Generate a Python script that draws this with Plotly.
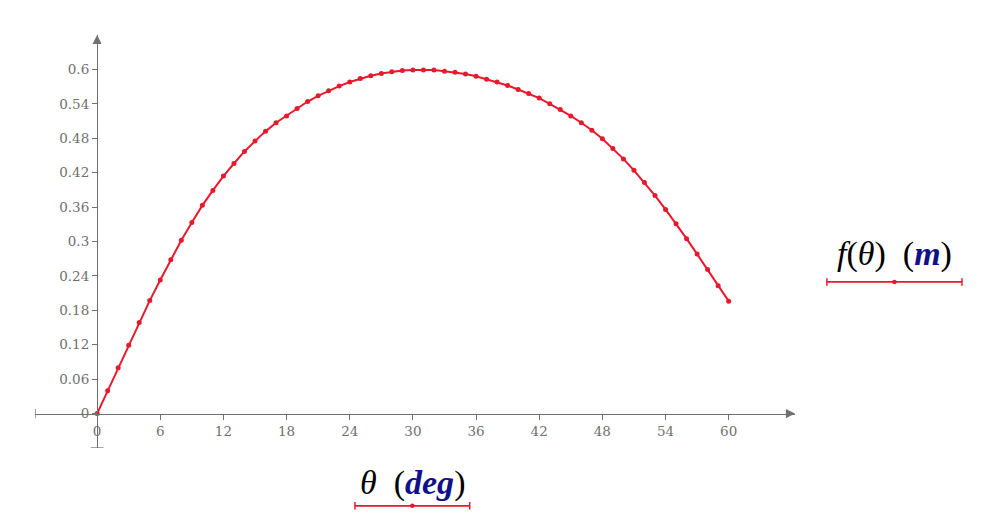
import plotly.graph_objects as go

# angle in degrees and f(theta) in metres
theta = list(range(0, 61))
f_theta = [
    0.000, 0.040, 0.080, 0.119, 0.159, 0.197, 0.233, 0.268, 0.302, 0.333,
    0.363, 0.389, 0.414, 0.436, 0.457, 0.475, 0.492, 0.507, 0.519, 0.532,
    0.544, 0.554, 0.563, 0.571, 0.578, 0.584, 0.589, 0.593, 0.596, 0.598,
    0.599, 0.599, 0.599, 0.597, 0.595, 0.592, 0.588, 0.583, 0.578, 0.572,
    0.565, 0.558, 0.550, 0.540, 0.530, 0.519, 0.507, 0.494, 0.479, 0.462,
    0.444, 0.424, 0.403, 0.380, 0.356, 0.331, 0.305, 0.278, 0.251, 0.223,
    0.196,
]
x_ticks = [0, 6, 12, 18, 24, 30, 36, 42, 48, 54, 60]
y_ticks = [0, 0.06, 0.12, 0.18, 0.24, 0.3, 0.36, 0.42, 0.48, 0.54, 0.6]
y_tick_text = ["0", "0.06", "0.12", "0.18", "0.24", "0.3", "0.36", "0.42", "0.48", "0.54", "0.6"]

RED = "#e8192c"
GREY = "#707070"
x_range = [-5.9, 66.3]
y_range = [-0.06, 0.66]

fig = go.Figure()
fig.add_trace(go.Scatter(
    x=theta, y=f_theta, mode="lines+markers",
    line=dict(color=RED, width=2),
    marker=dict(color=RED, size=5),
    cliponaxis=False, showlegend=False,
))

axis_font = dict(family="DejaVu Serif", size=13.5, color=GREY)
fig.update_xaxes(
    range=x_range, tickvals=x_ticks, ticktext=[str(t) for t in x_ticks],
    showgrid=False, zeroline=False, showline=True, linecolor=GREY, linewidth=1.3,
    ticks="outside", ticklen=5, tickcolor=GREY, tickfont=axis_font, automargin=False,
    anchor="free", position=(0 - y_range[0]) / (y_range[1] - y_range[0]),
)
fig.update_yaxes(
    range=y_range, tickvals=y_ticks, ticktext=y_tick_text,
    showgrid=False, zeroline=False, showline=True, linecolor=GREY, linewidth=1.3,
    ticks="outside", ticklen=5, tickcolor=GREY, tickfont=axis_font, automargin=False,
    anchor="free", position=(0 - x_range[0]) / (x_range[1] - x_range[0]),
)

# arrow heads at the positive ends of both axes
fig.add_annotation(x=x_range[1], y=0, ax=x_range[1] - 1, ay=0, xref="x", yref="y",
                   axref="x", ayref="y", showarrow=True, arrowhead=2, arrowsize=1.4,
                   arrowwidth=1.3, arrowcolor=GREY, text="")
fig.add_annotation(x=0, y=y_range[1], ax=0, ay=y_range[1] - 0.01, xref="x", yref="y",
                   axref="x", ayref="y", showarrow=True, arrowhead=2, arrowsize=1.4,
                   arrowwidth=1.3, arrowcolor=GREY, text="")
# end caps at the negative ends
fig.add_shape(type="line", x0=x_range[0], x1=x_range[0], y0=-0.008, y1=0.008,
              line=dict(color=GREY, width=1.3))
fig.add_shape(type="line", x0=-0.6, x1=0.6, y0=y_range[0], y1=y_range[0],
              line=dict(color=GREY, width=1.3))

label_font = dict(family="Liberation Serif", size=34, color="black")
fig.add_annotation(xref="paper", yref="paper", x=1.131, y=0.47, showarrow=False,
                   xanchor="center", yanchor="middle",
                   text="<i>f</i>(<i>θ</i>)  (<b><i><span style='color:#10108a'>m</span></i></b>)",
                   font=label_font)
fig.add_annotation(xref="paper", yref="paper", x=0.497, y=-0.085, showarrow=False,
                   xanchor="center", yanchor="middle",
                   text="<i>θ</i>  (<b><i><span style='color:#10108a'>deg</span></i></b>)",
                   font=label_font)

# legend-like line samples under the labels
for x0, x1, y in [(1.042, 1.2197, 0.402), (0.421, 0.572, -0.140)]:
    fig.add_shape(type="line", xref="paper", yref="paper", x0=x0, x1=x1, y0=y, y1=y,
                  line=dict(color=RED, width=1.8))
    for xe in (x0, x1):
        fig.add_shape(type="line", xref="paper", yref="paper", x0=xe, x1=xe,
                      y0=y - 0.009, y1=y + 0.009, line=dict(color=RED, width=1.5))
    xm = (x0 + x1) / 2
    fig.add_shape(type="circle", xref="paper", yref="paper", x0=xm - 0.003, x1=xm + 0.003,
                  y0=y - 0.0055, y1=y + 0.0055, fillcolor=RED, line=dict(color=RED, width=0))

fig.update_layout(
    width=999, height=519,
    margin=dict(l=27, r=212, t=27, b=79, autoexpand=False),
    plot_bgcolor="white", paper_bgcolor="white",
)
fig.write_html("out.html")
